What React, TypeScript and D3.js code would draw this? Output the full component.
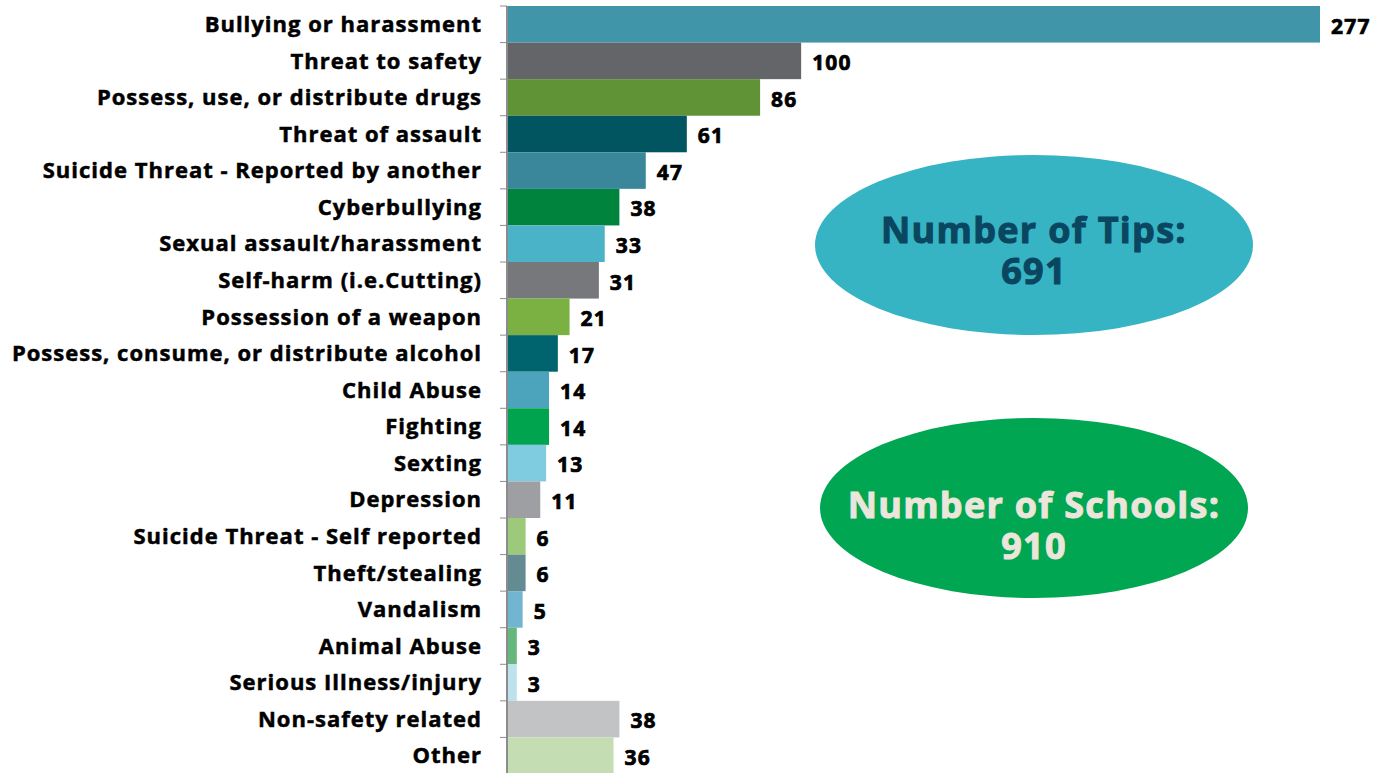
import React, { useEffect, useRef } from "react";
import * as d3 from "d3";

const categories = [
  "Bullying or harassment",
  "Threat to safety",
  "Possess, use, or distribute drugs",
  "Threat of assault",
  "Suicide Threat - Reported by another",
  "Cyberbullying",
  "Sexual assault/harassment",
  "Self-harm (i.e.Cutting)",
  "Possession of a weapon",
  "Possess, consume, or distribute alcohol",
  "Child Abuse",
  "Fighting",
  "Sexting",
  "Depression",
  "Suicide Threat - Self reported",
  "Theft/stealing",
  "Vandalism",
  "Animal Abuse",
  "Serious Illness/injury",
  "Non-safety related",
  "Other",
];

const values = [277, 100, 86, 61, 47, 38, 33, 31, 21, 17, 14, 14, 13, 11, 6, 6, 5, 3, 3, 38, 36];

const colors = [
  "#4096a8", "#636569", "#5f9336", "#005560", "#3a879b", "#00843d", "#4ab3c8",
  "#77787b", "#7ab142", "#00646f", "#4ba3bc", "#00a44f", "#7fcbe0", "#9d9fa2",
  "#9cc97a", "#638b91", "#72b5d0", "#65b77e", "#bde2ee", "#c2c3c5", "#c4ddb3",
];

const tipsLines = ["Number of Tips:", "691"];
const schoolsLines = ["Number of Schools:", "910"];

const W = 1387;
const H = 773;

export default function App() {
  const ref = useRef<SVGSVGElement>(null);

  useEffect(() => {
    const svg = d3.select(ref.current);
    svg.selectAll("*").remove();

    const x0 = 508;
    const x = d3.scaleLinear().domain([0, 277]).range([x0, 1320]);
    const y = d3.scaleBand<string>().domain(categories).range([6, 774]).padding(0);

    const font = "'Open Sans', sans-serif";

    // bars
    svg
      .append("g")
      .selectAll("rect")
      .data(categories)
      .join("rect")
      .attr("x", x0)
      .attr("y", (d) => y(d)!)
      .attr("width", (d, i) => x(values[i]) - x0)
      .attr("height", y.bandwidth())
      .attr("fill", (d, i) => colors[i]);

    // axis with ticks at band boundaries
    const axis = svg.append("g");
    axis
      .append("line")
      .attr("x1", 507)
      .attr("x2", 507)
      .attr("y1", 6)
      .attr("y2", H)
      .attr("stroke", "#8c8c8c")
      .attr("stroke-width", 2);
    axis
      .selectAll("line.tick")
      .data(categories)
      .join("line")
      .attr("class", "tick")
      .attr("x1", 500)
      .attr("x2", 507)
      .attr("y1", (d) => y(d)!)
      .attr("y2", (d) => y(d)!)
      .attr("stroke", "#8c8c8c")
      .attr("stroke-width", 1);

    // category labels (faux extra-bold)
    svg
      .append("g")
      .selectAll("text")
      .data(categories)
      .join("text")
      .attr("x", 482)
      .attr("y", (d) => y(d)! + y.bandwidth() / 2)
      .attr("dy", "0.35em")
      .attr("text-anchor", "end")
      .style("font-family", font)
      .style("font-weight", 700)
      .style("font-size", "22px")
      .style("letter-spacing", "1px")
      .attr("fill", "#000")
      .attr("stroke", "#000")
      .attr("stroke-width", 0.5)
      .text((d) => d);

    // value labels
    svg
      .append("g")
      .selectAll("text")
      .data(categories)
      .join("text")
      .attr("x", (d, i) => x(values[i]) + 11)
      .attr("y", (d) => y(d)! + y.bandwidth() / 2 + 2)
      .attr("dy", "0.35em")
      .style("font-family", font)
      .style("font-weight", 700)
      .style("font-size", "21px")
      .style("letter-spacing", "1.2px")
      .attr("fill", "#000")
      .attr("stroke", "#000")
      .attr("stroke-width", 0.7)
      .text((d, i) => values[i]);

    // summary ellipses
    const bubbles = [
      { cx: 1034, cy: 245, rx: 219, ry: 90, fill: "#37b4c3", color: "#0a4660", lines: tipsLines, base: 243 },
      { cx: 1034, cy: 508, rx: 214, ry: 90, fill: "#00a651", color: "#ebe5db", lines: schoolsLines, base: 518 },
    ];
    bubbles.forEach((b) => {
      const g = svg.append("g");
      g.append("ellipse")
        .attr("cx", b.cx)
        .attr("cy", b.cy)
        .attr("rx", b.rx)
        .attr("ry", b.ry)
        .attr("fill", b.fill);
      const t = g
        .append("text")
        .attr("text-anchor", "middle")
        .style("font-family", font)
        .style("font-weight", 700)
        .style("font-size", "36px")
        .style("letter-spacing", "1.3px")
        .attr("fill", b.color)
        .attr("stroke", b.color)
        .attr("stroke-width", 1);
      t.selectAll("tspan")
        .data(b.lines)
        .join("tspan")
        .attr("x", b.cx)
        .attr("y", (d, i) => b.base + i * 41)
        .text((d) => d);
    });
  }, []);

  return (
    <svg
      ref={ref}
      width={W}
      height={H}
      style={{ position: "absolute", left: 0, top: 0, background: "#fff" }}
    />
  );
}
